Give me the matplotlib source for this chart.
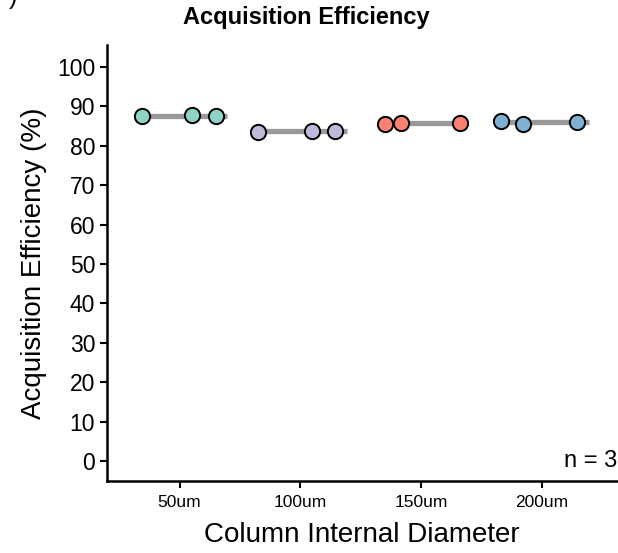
import matplotlib
matplotlib.use("Agg")
import matplotlib.pyplot as plt
import numpy as np

plt.rcParams['font.family'] = ['Liberation Sans', 'DejaVu Sans']

# data
groups = ["50um", "100um", "150um", "200um"]
colors = ["#8DD3C7", "#BEBADA", "#FB8072", "#80B1D3"]
jitter = [[-0.31, 0.10, 0.30],
          [-0.35, 0.10, 0.29],
          [-0.30, -0.17, 0.32],
          [-0.34, -0.16, 0.29]]
values = [[87.4, 87.7, 87.5],
          [83.5, 83.7, 83.8],
          [85.5, 85.7, 85.8],
          [86.3, 85.6, 86.0]]
yticks = list(range(0, 101, 10))

fig = plt.figure(figsize=(6.18, 5.53), dpi=100)
ax = fig.add_axes([107/618, 1-481/553, 510/618, 436/553])

for i, g in enumerate(groups):
    pos = i + 1
    xs = np.array(jitter[i]) + pos
    ys = np.array(values[i])
    ax.plot([xs.min(), pos + 0.39], [ys.mean(), ys.mean()], color="#999999",
            lw=3.8, solid_capstyle="butt", zorder=1)
    ax.plot(xs, ys, "o", ms=11, mfc=colors[i], mec="black", mew=1.4, zorder=3)

ax.set_xlim(0.4, 4.62)
ax.set_ylim(-5, 105.5)
ax.set_xticks(range(1, len(groups)+1))
ax.set_xticklabels(groups, fontsize=12.5)
ax.set_yticks(yticks)
ax.set_yticklabels([str(t) for t in yticks], fontsize=16.5)
ax.tick_params(width=1.5, length=5, color="black")
ax.tick_params(axis="x", pad=5)
for s in ["top", "right"]:
    ax.spines[s].set_visible(False)
for s in ["left", "bottom"]:
    ax.spines[s].set_linewidth(1.8)

ax.set_xlabel("Column Internal Diameter", fontsize=20)
ax.set_ylabel("Acquisition Efficiency (%)", fontsize=20, labelpad=7)
ax.text(1.0, 0, "n = 3", transform=ax.get_yaxis_transform(), ha="right", va="center", fontsize=17)
ax.xaxis.set_label_coords(0.5, -0.093)

fig.suptitle("Acquisition Efficiency", x=0.495, y=0.969, va="center", fontsize=17, fontweight="bold")
fig.text(0.015, 1.005, ")", fontsize=18, va="center", ha="left")

fig.savefig("out.png", dpi=100)
